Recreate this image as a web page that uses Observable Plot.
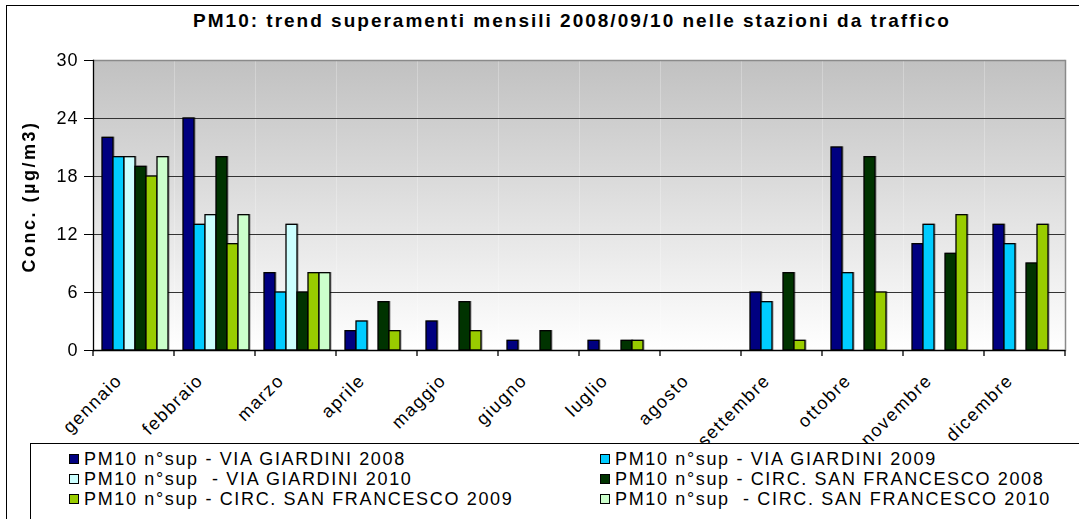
<!DOCTYPE html>
<html><head><meta charset="utf-8">
<script src="https://cdn.jsdelivr.net/npm/d3@7"></script>
<script src="https://cdn.jsdelivr.net/npm/@observablehq/plot@0.6"></script>
<style>
body{margin:0;width:1079px;height:519px;overflow:hidden;background:#fff;font-family:Arial,"Liberation Sans",sans-serif;position:relative}
#frame{position:absolute;left:6px;top:5px;width:1100px;height:600px;border:1px solid #000;box-sizing:border-box}
#title{position:absolute;top:10px;left:572px;transform:translateX(-50%);font-weight:bold;font-size:19px;letter-spacing:2px;white-space:nowrap;line-height:22px}
#chart{position:absolute;left:0;top:0}
#legend{position:absolute;left:30px;top:443px;width:1100px;height:200px;border:1px solid #000;box-sizing:border-box;background:#fff}
.item{position:absolute;display:flex;align-items:center;font-size:18px;letter-spacing:1.65px;white-space:pre;line-height:20px;height:20px}
.sw{display:inline-block;width:8px;height:8px;border:1px solid #000;margin-right:5px}
</style></head>
<body>
<div id="frame"></div>
<div id="title">PM10: trend superamenti mensili 2008/09/10 nelle stazioni da traffico</div>
<div id="chart"></div>
<script>
const months = ["gennaio","febbraio","marzo","aprile","maggio","giugno","luglio","agosto","settembre","ottobre","novembre","dicembre"];
const seriesNames = [
  "PM10 n°sup - VIA GIARDINI 2008",
  "PM10 n°sup - VIA GIARDINI 2009",
  "PM10 n°sup  - VIA GIARDINI 2010",
  "PM10 n°sup - CIRC. SAN FRANCESCO 2008",
  "PM10 n°sup - CIRC. SAN FRANCESCO 2009",
  "PM10 n°sup  - CIRC. SAN FRANCESCO 2010"
];
const seriesColors = ["#000080","#00ccff","#ccffff","#003300","#99cc00","#ccffcc"];
const viaGiardini2008 = [22,24,8,2,3,1,1,0,6,21,11,13];
const viaGiardini2009 = [20,13,6,3,0,0,0,0,5,8,13,11];
const viaGiardini2010 = [20,14,13,null,null,null,null,null,null,null,null,null];
const circSanFrancesco2008 = [19,20,6,5,5,2,1,0,8,20,10,9];
const circSanFrancesco2009 = [18,11,8,2,2,0,1,0,1,6,14,13];
const circSanFrancesco2010 = [20,14,8,null,null,null,null,null,null,null,null,null];
const yTicks = [0,6,12,18,24,30];
const gridTicks = [6,12,18,24];
const yLabel = "Conc. (µg/m3)";

const allSeries = [viaGiardini2008, viaGiardini2009, viaGiardini2010, circSanFrancesco2008, circSanFrancesco2009, circSanFrancesco2010];
const rows = [];
months.forEach((m, i) => allSeries.forEach((s, j) => {
  if (s[i] != null && s[i] > 0) rows.push({month: m, series: seriesNames[j], value: s[i]});
}));

const font = "Arial, 'Liberation Sans', sans-serif";
const plot = Plot.plot({
  width: 1079, height: 445,
  marginLeft: 91, marginRight: 12, marginTop: 60, marginBottom: 95,
  style: {fontFamily: font, background: "transparent", overflow: "visible", color: "#000"},
  fx: {domain: months, padding: 0, label: null},
  x: {domain: seriesNames, paddingInner: 0, paddingOuter: 0.6, align: 0.6, axis: null},
  y: {domain: [0, 30], label: yLabel},
  color: {domain: seriesNames, range: seriesColors},
  marks: [
    Plot.frame({fill: "url(#bgGrad)", stroke: null}),
    Plot.gridY(gridTicks, {stroke: "#333", strokeOpacity: 1, strokeWidth: 1}),
    Plot.ruleY([30], {stroke: "#8a8a8a", strokeWidth: 1.5}),
    Plot.frame({anchor: "right", facetAnchor: "right", stroke: "#8a8a8a", strokeWidth: 1.5}),
    Plot.barY(rows, {fx: "month", x: "series", y: "value", fill: "series", stroke: "#000", strokeWidth: 1.3}),
    Plot.ruleY(months, {fx: d => d, y: () => 0, stroke: "#000", strokeWidth: 1.3}),
    Plot.frame({anchor: "left", facetAnchor: "left", stroke: "#000", strokeWidth: 1.3}),
    Plot.axisY(yTicks, {anchor: "left", tickSize: 9, tickPadding: 6, fontSize: 18, label: yLabel, labelAnchor: "center", labelArrow: "none", labelOffset: 71}),
    Plot.axisFx({anchor: "bottom", tickSize: 0, tickPadding: 27, tickRotate: -45, fontSize: 18, dx: -15, label: null})
  ]
});

const svg = d3.select(plot);
const grad = svg.insert("defs", ":first-child").append("linearGradient")
  .attr("id", "bgGrad").attr("x1", 0).attr("y1", 0).attr("x2", 0).attr("y2", 1);
grad.append("stop").attr("offset", "0%").attr("stop-color", "#c1c1c1");
grad.append("stop").attr("offset", "100%").attr("stop-color", "#ffffff");

svg.selectAll('g[aria-label="bar"]').style("filter", "drop-shadow(1.5px 0.5px 0 rgba(0,0,0,0.3))");
svg.selectAll('g[aria-label="y-axis label"]').attr("font-weight", "bold").attr("letter-spacing", "2.5px")
  .attr("transform", function() { return "translate(0,-9) " + (this.getAttribute("transform") || ""); });
svg.selectAll('g[aria-label="y-axis tick label"]').attr("letter-spacing", "1px");
svg.selectAll('g[aria-label="fx-axis tick label"]').attr("letter-spacing", "1.5px");

// category boundary tick marks on the x axis, from the fx scale
const fxs = plot.scale("fx");
const ys = plot.scale("y");
const y0 = ys.apply(0);
const bounds = months.map(m => fxs.apply(m)).concat([fxs.apply(months[months.length - 1]) + fxs.bandwidth]);
svg.append("g").attr("stroke", "#000").attr("stroke-width", 1.3)
  .selectAll("line").data(bounds).join("line")
  .attr("x1", d => d).attr("x2", d => d).attr("y1", y0).attr("y2", y0 + 6);

document.getElementById("chart").appendChild(plot);

// legend
d3.select("body").append("div").attr("id", "legend");
const legendPos = [[0,0],[1,0],[0,1],[1,1],[0,2],[1,2]];
const colX = [69, 600];
seriesNames.forEach((name, i) => {
  const [c, r] = legendPos[i];
  const it = d3.select("body").append("div").attr("class", "item")
    .style("left", colX[c] + "px").style("top", (449 + r * 20) + "px");
  it.append("span").attr("class", "sw").style("background", seriesColors[i]);
  it.append("span").text(name);
});
</script>
</body></html>
